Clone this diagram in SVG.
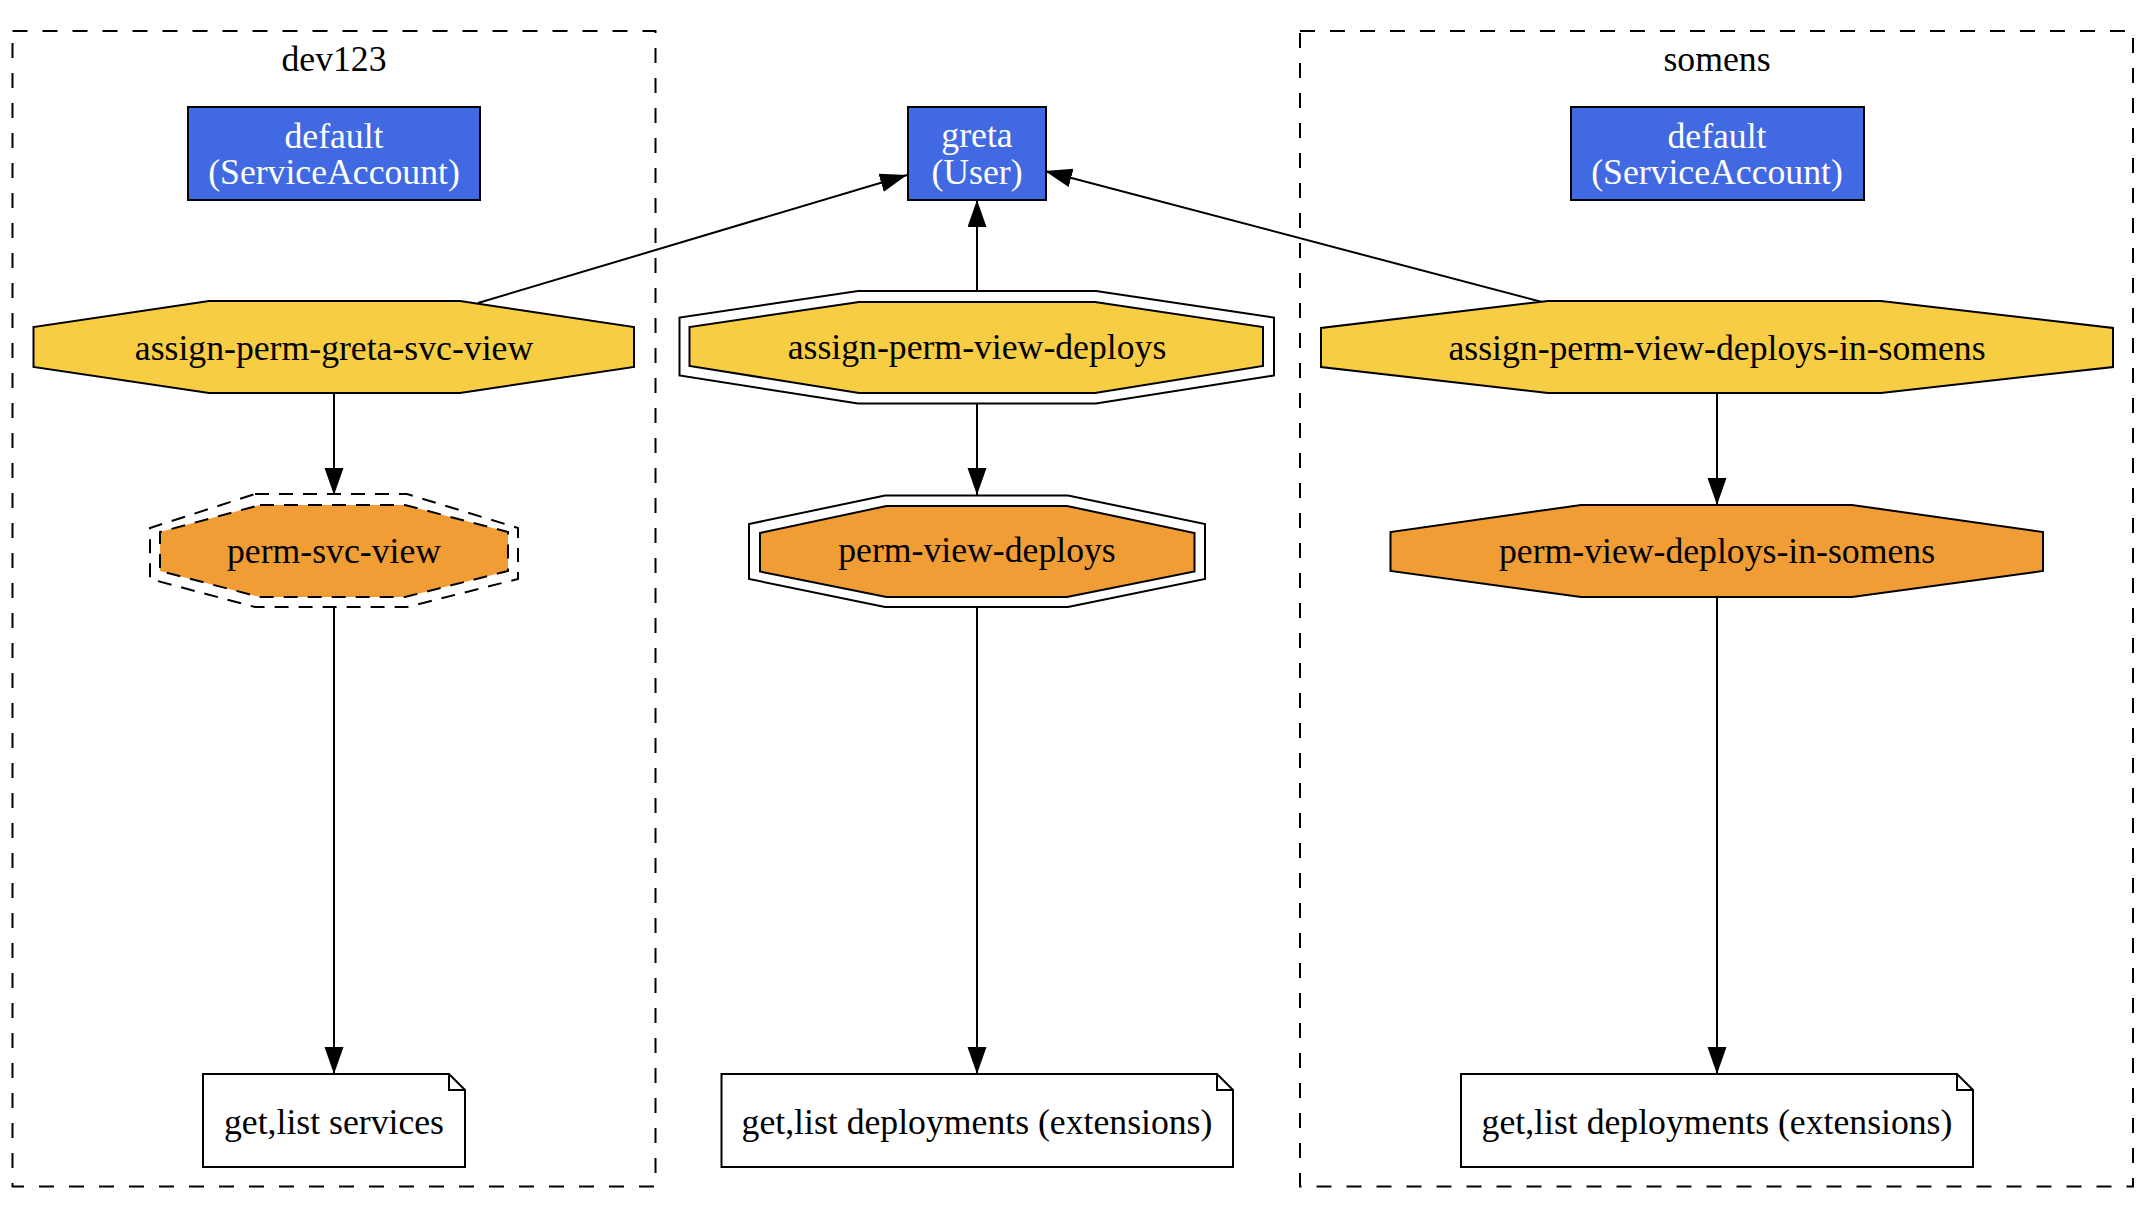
<svg xmlns="http://www.w3.org/2000/svg" width="2150" height="1220" viewBox="0 0 2150 1220">
<defs>
<style>
text{font-family:"Liberation Serif","Times New Roman",serif;font-size:35.7px;text-anchor:middle;fill:#000}
.w{fill:#fff}
.cluster{fill:none;stroke:#000;stroke-width:2;stroke-dasharray:15 15}
.box{fill:#4169E1;stroke:#000;stroke-width:2}
.assign{fill:#F6CD43;stroke:#000;stroke-width:2}
.perm{fill:#F09D36;stroke:#000;stroke-width:2}
.outer{fill:#fff;stroke:#000;stroke-width:2}
.dash{stroke-dasharray:14 10}
.note{fill:#fff;stroke:#000;stroke-width:2}
.edge{fill:none;stroke:#000;stroke-width:2}
</style>
<marker id="arr" markerUnits="userSpaceOnUse" markerWidth="28" markerHeight="20" refX="27" refY="9.5" orient="auto">
<path d="M0,0 L27,9.5 L0,19 Z" fill="#000"/>
</marker>
</defs>
<rect width="2150" height="1220" fill="#fff"/>

<g id="cluster_dev123">
<rect class="cluster" x="12.5" y="31" width="643" height="1155.5"/>
<text x="334" y="71">dev123</text>
</g>
<g id="cluster_somens">
<rect class="cluster" x="1300" y="31" width="833" height="1155.5"/>
<text x="1717" y="71">somens</text>
</g>

<g id="connectors">
<line class="edge" x1="478" y1="303" x2="907" y2="175" marker-end="url(#arr)"/>
<line class="edge" x1="977" y1="291" x2="977" y2="200" marker-end="url(#arr)"/>
<line class="edge" x1="1542" y1="302" x2="1045" y2="171" marker-end="url(#arr)"/>
<line class="edge" x1="334" y1="393" x2="334" y2="495" marker-end="url(#arr)"/>
<line class="edge" x1="977" y1="404" x2="977" y2="495" marker-end="url(#arr)"/>
<line class="edge" x1="1717" y1="393" x2="1717" y2="505" marker-end="url(#arr)"/>
<line class="edge" x1="334" y1="607" x2="334" y2="1074" marker-end="url(#arr)"/>
<line class="edge" x1="977" y1="607" x2="977" y2="1074" marker-end="url(#arr)"/>
<line class="edge" x1="1717" y1="597" x2="1717" y2="1074" marker-end="url(#arr)"/>
</g>

<g id="sa_dev123">
<rect class="box" x="188" y="107" width="292" height="93"/>
<text class="w" x="334" y="148">default</text>
<text class="w" x="334" y="184">(ServiceAccount)</text>
</g>
<g id="user_greta">
<rect class="box" x="908" y="107" width="138" height="93"/>
<text class="w" x="977" y="147">greta</text>
<text class="w" x="977" y="184">(User)</text>
</g>
<g id="sa_somens">
<rect class="box" x="1571" y="107" width="293" height="93"/>
<text class="w" x="1717" y="148">default</text>
<text class="w" x="1717" y="184">(ServiceAccount)</text>
</g>

<g id="assign_greta_svc_view">
<polygon class="assign" points="209,301 460,301 634,327 634,367 460,393 209,393 33.5,367 33.5,327"/>
<text x="334" y="360">assign-perm-greta-svc-view</text>
</g>
<g id="assign_view_deploys">
<polygon class="outer" points="858,291 1096,291 1274,317.5 1274,375.5 1096,403.5 858,403.5 679.5,375.5 679.5,317.5"/>
<polygon class="assign" points="859,302 1095,302 1263,327 1263,366 1095,393 859,393 689.5,366 689.5,327"/>
<text x="977" y="359">assign-perm-view-deploys</text>
</g>
<g id="assign_view_deploys_in_somens">
<polygon class="assign" points="1548,301 1881,301 2113,328 2113,367 1881,393 1548,393 1321,367 1321,328"/>
<text x="1717" y="360">assign-perm-view-deploys-in-somens</text>
</g>

<g id="perm_svc_view">
<polygon class="outer dash" points="255,494 407,494 518,528 518,579 407,607 255,607 150,579 150,528"/>
<polygon class="perm dash" points="260,505 405,505 508,532 508,571 405,597 260,597 160,571 160,532"/>
<text x="334" y="563">perm-svc-view</text>
</g>
<g id="perm_view_deploys">
<polygon class="outer" points="885,495.5 1068,495.5 1205,524 1205,579 1068,607 885,607 749,579 749,524"/>
<polygon class="perm" points="886.5,506 1067,506 1194.5,533 1194.5,571.5 1067,597 886.5,597 760,571.5 760,533"/>
<text x="977" y="562">perm-view-deploys</text>
</g>
<g id="perm_view_deploys_in_somens">
<polygon class="perm" points="1581,505 1852,505 2043,532 2043,571 1852,597 1581,597 1390.5,571 1390.5,532"/>
<text x="1717" y="563">perm-view-deploys-in-somens</text>
</g>

<g id="rule_services">
<path class="note" d="M203,1074 L449,1074 L465,1090 L465,1167 L203,1167 Z"/>
<path class="edge" d="M449,1074 L449,1090 L465,1090"/>
<text x="334" y="1134">get,list services</text>
</g>
<g id="rule_deployments">
<path class="note" d="M721.5,1074 L1217,1074 L1233,1090 L1233,1167 L721.5,1167 Z"/>
<path class="edge" d="M1217,1074 L1217,1090 L1233,1090"/>
<text x="977" y="1134">get,list deployments (extensions)</text>
</g>
<g id="rule_deployments_somens">
<path class="note" d="M1461,1074 L1957,1074 L1973,1090 L1973,1167 L1461,1167 Z"/>
<path class="edge" d="M1957,1074 L1957,1090 L1973,1090"/>
<text x="1717" y="1134">get,list deployments (extensions)</text>
</g>
</svg>
